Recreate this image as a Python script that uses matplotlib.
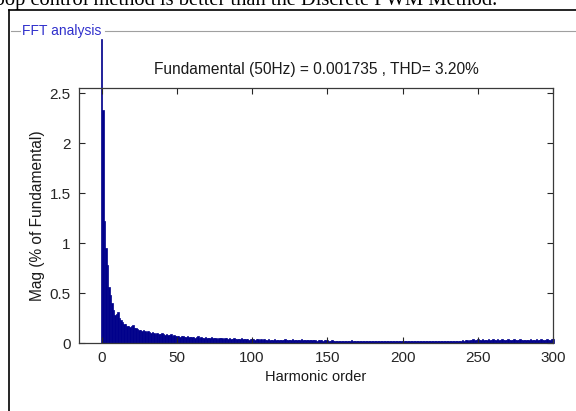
import matplotlib
matplotlib.use("Agg")
import matplotlib.pyplot as plt
from matplotlib.lines import Line2D
import numpy as np

# harmonic spectrum (% of fundamental)
orders = np.arange(0, 301)
mag = [
    3.04, 2.33, 1.22, 0.95, 0.78, 0.56, 0.48, 0.40, 0.33, 0.28,
    0.29, 0.31, 0.25, 0.23, 0.21, 0.19, 0.19, 0.17, 0.17, 0.16,
    0.17, 0.18, 0.15, 0.15, 0.14, 0.13, 0.13, 0.12, 0.13, 0.12,
    0.11, 0.12, 0.11, 0.10, 0.11, 0.10, 0.09, 0.10, 0.09, 0.09,
    0.10, 0.09, 0.08, 0.09, 0.08, 0.08, 0.09, 0.07, 0.08, 0.07,
    0.07, 0.07, 0.06, 0.07, 0.07, 0.06, 0.06, 0.07, 0.06, 0.06,
    0.06, 0.06, 0.05, 0.06, 0.07, 0.05, 0.06, 0.05, 0.05, 0.06,
    0.05, 0.05, 0.05, 0.06, 0.05, 0.05, 0.05, 0.04, 0.05, 0.05,
    0.05, 0.04, 0.05, 0.05, 0.04, 0.05, 0.04, 0.04, 0.05, 0.04,
    0.04, 0.04, 0.04, 0.05, 0.04, 0.04, 0.04, 0.04, 0.03, 0.04,
    0.04, 0.04, 0.03, 0.04, 0.04, 0.03, 0.04, 0.03, 0.04, 0.03,
    0.03, 0.04, 0.03, 0.03, 0.03, 0.04, 0.03, 0.03, 0.03, 0.03,
    0.03, 0.03, 0.04, 0.03, 0.03, 0.03, 0.03, 0.04, 0.03, 0.03,
    0.03, 0.03, 0.03, 0.04, 0.03, 0.03, 0.03, 0.03, 0.03, 0.03,
    0.03, 0.03, 0.03, 0.02, 0.03, 0.03, 0.03, 0.02, 0.03, 0.03,
    0.03, 0.02, 0.02, 0.03, 0.02, 0.02, 0.02, 0.02, 0.02, 0.02,
    0.02, 0.02, 0.02, 0.02, 0.02, 0.02, 0.03, 0.02, 0.02, 0.02,
    0.02, 0.02, 0.02, 0.02, 0.02, 0.02, 0.02, 0.02, 0.02, 0.02,
    0.02, 0.02, 0.02, 0.02, 0.02, 0.02, 0.02, 0.02, 0.02, 0.02,
    0.02, 0.02, 0.02, 0.02, 0.02, 0.02, 0.02, 0.02, 0.02, 0.02,
    0.02, 0.02, 0.02, 0.02, 0.02, 0.02, 0.02, 0.02, 0.02, 0.02,
    0.02, 0.02, 0.025, 0.02, 0.02, 0.02, 0.02, 0.02, 0.02, 0.02,
    0.02, 0.02, 0.02, 0.02, 0.025, 0.02, 0.02, 0.02, 0.02, 0.02,
    0.02, 0.02, 0.02, 0.02, 0.02, 0.02, 0.025, 0.02, 0.02, 0.02,
    0.03, 0.02, 0.03, 0.03, 0.02, 0.03, 0.03, 0.04, 0.03, 0.03,
    0.04, 0.03, 0.03, 0.04, 0.03, 0.03, 0.03, 0.04, 0.03, 0.03,
    0.04, 0.03, 0.03, 0.04, 0.03, 0.03, 0.04, 0.03, 0.03, 0.03,
    0.04, 0.03, 0.03, 0.03, 0.04, 0.03, 0.03, 0.03, 0.04, 0.03,
    0.03, 0.03, 0.03, 0.03, 0.03, 0.04, 0.03, 0.03, 0.03, 0.04,
    0.03, 0.03, 0.04, 0.03, 0.03, 0.03, 0.04, 0.03, 0.03, 0.04,
    0.04,
]
xticks = [0, 50, 100, 150, 200, 250, 300]
yticks = [0, 0.5, 1, 1.5, 2, 2.5]
ytick_labels = ["0", "0.5", "1", "1.5", "2", "2.5"]

W, H = 576, 411
plt.rcParams['font.family'] = ['Liberation Sans', 'DejaVu Sans']
fig = plt.figure(figsize=(W / 100, H / 100), dpi=100)

def fx(px):
    return px / W

def fy(py):
    return 1 - py / H

# bit of document text, cut off at the top like in the screenshot
fig.text(fx(497), fy(5), "loop control method is better than the Discrete PWM Method.",
         ha='right', va='baseline', fontsize=14.8, family='Liberation Serif', color='black')

# panel frame and group box
fig.add_artist(Line2D([fx(9), fx(9)], [fy(10), fy(411)], color='black', lw=1.2))
fig.add_artist(Line2D([fx(9), fx(576)], [fy(10), fy(10)], color='black', lw=1.2))
fig.add_artist(Line2D([fx(11), fx(20)], [fy(31), fy(31)], color='#a0a0a0', lw=0.8))
fig.add_artist(Line2D([fx(105), fx(576)], [fy(31), fy(31)], color='#a0a0a0', lw=0.8))
fig.text(fx(22), fy(31), "FFT analysis", ha='left', va='center', fontsize=10, color='#3030cc')

ax = fig.add_axes([fx(79), fy(343), fx(553) - fx(79), fy(88) - fy(343)])
ax.bar(orders, mag, width=1.0, color='#00008b', edgecolor='#00008b', linewidth=0.5, clip_on=False)

ax.set_xlim(-15, 300)
ax.set_ylim(0, 2.553)
ax.set_xticks(xticks)
ax.set_yticks(yticks)
ax.set_yticklabels(ytick_labels)
ax.tick_params(direction='in', top=True, right=True, length=4, width=0.8,
               labelsize=11, colors='#262626', pad=6)
for s in ax.spines.values():
    s.set_color('#3a3a3a')
    s.set_linewidth(0.9)

ax.set_title("Fundamental (50Hz) = 0.001735 , THD= 3.20%", fontsize=11.2, color='#1a1a1a', pad=10)
ax.set_xlabel("Harmonic order", fontsize=10.5, color='#1a1a1a', labelpad=3)
ax.set_ylabel("Mag (% of Fundamental)", fontsize=11.2, color='#1a1a1a', labelpad=3)

fig.savefig("out.png", dpi=100)
